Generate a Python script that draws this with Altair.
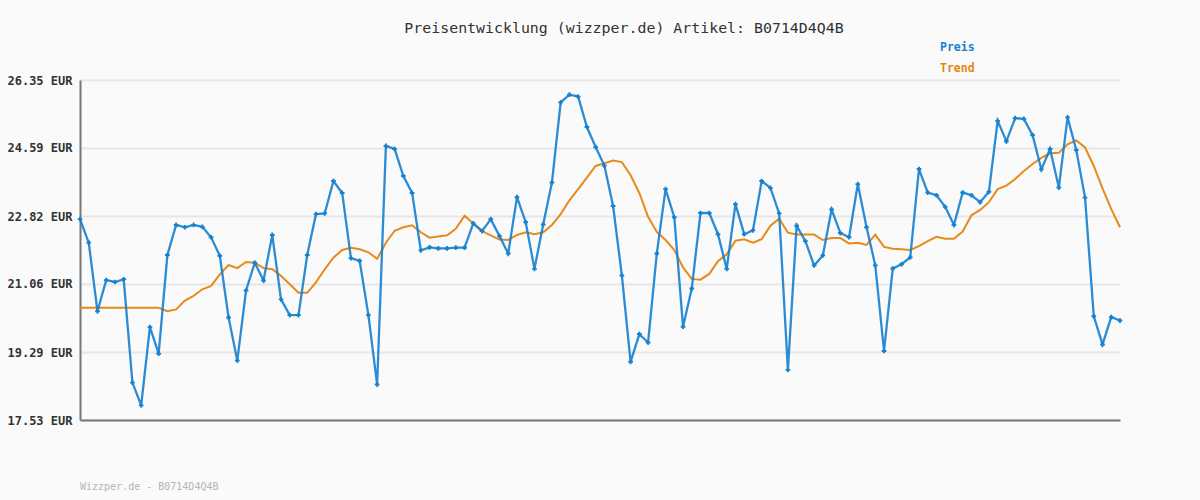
import altair as alt
import pandas as pd

title_text = "Preisentwicklung (wizzper.de) Artikel: B0714D4Q4B"
footer_text = "Wizzper.de - B0714D4Q4B"
series_names = ["Preis", "Trend"]
series_colors = ["#1480d0", "#e5850f"]
y_ticks = [17.53, 19.29, 21.06, 22.82, 24.59, 26.35]

preis = [
    22.74, 22.13, 20.35, 21.16, 21.11, 21.18, 18.50, 17.91, 19.94, 19.25,
    21.81, 22.59, 22.53, 22.59, 22.54, 22.27, 21.79, 20.19, 19.07, 20.89,
    21.61, 21.15, 22.33, 20.66, 20.25, 20.25, 21.81, 22.87, 22.89, 23.73,
    23.42, 21.73, 21.66, 20.25, 18.45, 24.64, 24.56, 23.86, 23.42, 21.93,
    22.01, 21.98, 21.98, 22.00, 22.00, 22.63, 22.43, 22.74, 22.30, 21.85,
    23.31, 22.66, 21.45, 22.60, 23.69, 25.77, 25.97, 25.92, 25.13, 24.61,
    24.13, 23.08, 21.28, 19.04, 19.76, 19.54, 21.85, 23.52, 22.79, 19.95,
    20.94, 22.90, 22.90, 22.35, 21.45, 23.13, 22.35, 22.45, 23.73, 23.55,
    22.89, 18.83, 22.57, 22.17, 21.54, 21.80, 22.99, 22.38, 22.27, 23.65,
    22.53, 21.54, 19.32, 21.46, 21.57, 21.75, 24.04, 23.43, 23.36, 23.06,
    22.59, 23.43, 23.36, 23.18, 23.45, 25.29, 24.76, 25.36, 25.34, 24.92,
    24.03, 24.56, 23.56, 25.38, 24.53, 23.30, 20.22, 19.49, 20.20, 20.11,
]

trend = [
    20.44, 20.44, 20.44, 20.44, 20.44, 20.44, 20.44, 20.44, 20.44, 20.44,
    20.35, 20.40, 20.63, 20.75, 20.92, 21.01, 21.31, 21.55, 21.47, 21.63,
    21.61, 21.47, 21.44, 21.27, 21.05, 20.83, 20.83, 21.10, 21.44, 21.74,
    21.94, 22.00, 21.96, 21.88, 21.71, 22.13, 22.44, 22.53, 22.58, 22.40,
    22.26, 22.29, 22.32, 22.49, 22.83, 22.63, 22.43, 22.32, 22.21, 22.20,
    22.33, 22.40, 22.35, 22.40, 22.59, 22.87, 23.23, 23.52, 23.82, 24.12,
    24.19, 24.26, 24.22, 23.88, 23.42, 22.80, 22.41, 22.20, 21.94, 21.49,
    21.19, 21.17, 21.32, 21.65, 21.83, 22.18, 22.22, 22.13, 22.22, 22.57,
    22.75, 22.39, 22.34, 22.34, 22.34, 22.20, 22.25, 22.25, 22.11, 22.13,
    22.07, 22.34, 22.02, 21.97, 21.96, 21.94, 22.04, 22.17, 22.28, 22.23,
    22.23, 22.42, 22.84, 22.98, 23.18, 23.52, 23.61, 23.78, 23.99, 24.17,
    24.33, 24.45, 24.46, 24.68, 24.78, 24.60, 24.12, 23.54, 23.00, 22.53,
]

n = len(preis)
df = pd.DataFrame({
    "i": list(range(n)) * 2,
    "wert": preis + trend,
    "serie": ["Preis"] * n + ["Trend"] * n,
})
df_preis = df[df["serie"] == "Preis"]
df_trend = df[df["serie"] == "Trend"]

FONT = "DejaVu Sans Mono"

x_enc = alt.X("i:Q", scale=alt.Scale(domain=[0, n - 1], nice=False, zero=False),
              axis=alt.Axis(labels=False, ticks=False, grid=False, title=None,
                            domainColor="#777777", domainWidth=2))
y_enc = alt.Y("wert:Q", scale=alt.Scale(domain=[y_ticks[0], y_ticks[-1]], nice=False, zero=False),
              axis=alt.Axis(values=y_ticks, labelExpr="format(datum.value, '.2f') + ' EUR'",
                            title=None, ticks=False, grid=True, gridColor="#e6e6e6",
                            gridWidth=2, domainColor="#777777", domainWidth=2,
                            labelFont=FONT, labelFontSize=12, labelFontWeight="bold",
                            labelColor="#333333", labelPadding=8))
color_enc = alt.Color("serie:N", scale=alt.Scale(domain=series_names, range=series_colors), legend=None)

trend_line = alt.Chart(df_trend).mark_line(strokeWidth=2, opacity=0.95).encode(
    x=x_enc, y=y_enc, color=color_enc)

preis_line = alt.Chart(df_preis).mark_line(strokeWidth=2.3, opacity=0.9).encode(
    x="i:Q", y="wert:Q", color=color_enc)

preis_pts = alt.Chart(df_preis).mark_point(shape="cross", filled=True, size=22, opacity=1).encode(
    x="i:Q", y="wert:Q", color=color_enc)

legend_df = pd.DataFrame({"serie": series_names})
legend_layers = []
for name, ypos in zip(series_names, [-32, -11]):
    legend_layers.append(
        alt.Chart(legend_df[legend_df["serie"] == name]).mark_text(
            font=FONT, fontSize=11.5, fontWeight="bold", align="left", baseline="middle"
        ).encode(x=alt.value(860), y=alt.value(ypos), text="serie:N", color=color_enc)
    )

title = alt.Chart(pd.DataFrame({"t": [title_text]})).mark_text(
    font=FONT, fontSize=14.9, color="#333333", align="center", baseline="middle"
).encode(x=alt.value(544), y=alt.value(-51), text="t:N")

footer = alt.Chart(pd.DataFrame({"t": [footer_text]})).mark_text(
    font=FONT, fontSize=10, color="#b5b5b5", align="left", baseline="middle"
).encode(x=alt.value(0), y=alt.value(407), text="t:N")

chart = alt.layer(trend_line, preis_line, preis_pts, *legend_layers, title, footer).properties(
    width=1040, height=340,
    background="#fafafa",
    padding={"left": 80, "top": 80, "right": 80, "bottom": 80},
    autosize=alt.AutoSizeParams(type="none"),
).configure_view(stroke=None)

chart.save("out.html", embed_options={"renderer": "svg", "actions": False})
